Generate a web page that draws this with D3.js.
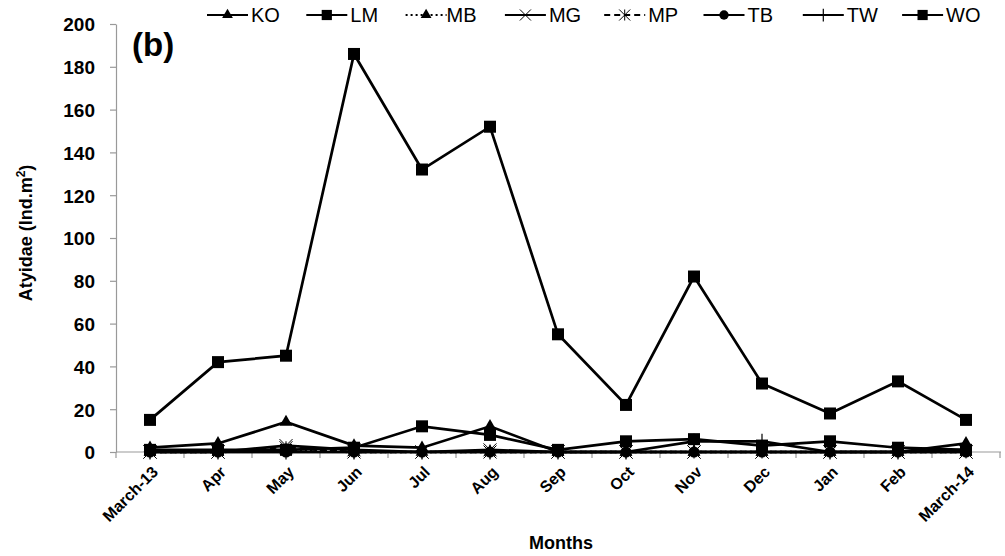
<!DOCTYPE html>
<html>
<head>
<meta charset="utf-8">
<script src="https://cdn.jsdelivr.net/npm/d3@7/dist/d3.min.js"></script>
<style>
  body { margin: 0; background: #fff; }
  svg { font-family: "Liberation Sans", Arial, sans-serif; }
</style>
</head>
<body>
<svg id="chart" width="1005" height="556"></svg>
<script>
const months = ["March-13", "Apr", "May", "Jun", "Jul", "Aug", "Sep", "Oct", "Nov", "Dec", "Jan", "Feb", "March-14"];
const yTicks = [0, 20, 40, 60, 80, 100, 120, 140, 160, 180, 200];

const KO = [2, 4, 14, 3, 2, 12, 0, 0, 0, 0, 0, 0, 4];
const LM = [1, 1, 1, 2, 12, 8, 1, 5, 6, 3, 5, 2, 1];
const MB = [0, 0, 1, 0, 0, 0, 0, 0, 0, 0, 0, 0, 0];
const MG = [0, 0, 3, 1, 0, 1, 0, 0, 0, 0, 0, 0, 0];
const MP = [0, 0, 2, 0, 0, 0, 0, 0, 0, 0, 0, 0, 0];
const TB = [0, 0, 0, 0, 0, 0, 0, 0, 0, 0, 0, 0, 0];
const TW = [0, 0, 0, 0, 0, 0, 0, 0, 5, 5, 0, 0, 1];
const WO = [15, 42, 45, 186, 132, 152, 55, 22, 82, 32, 18, 33, 15];

const series = [
  { name: "KO", values: KO, marker: "triangle", dash: null },
  { name: "LM", values: LM, marker: "square", dash: null },
  { name: "MB", values: MB, marker: "triangle", dash: "2,3" },
  { name: "MG", values: MG, marker: "cross", dash: null },
  { name: "MP", values: MP, marker: "star", dash: "6,4" },
  { name: "TB", values: TB, marker: "circle", dash: null },
  { name: "TW", values: TW, marker: "plus", dash: null },
  { name: "WO", values: WO, marker: "square", dash: null }
];

const svg = d3.select("#chart");
const mLeft = 116, mRight = 1000, mTop = 24, mBottom = 452;

const x = d3.scaleBand().domain(months).range([mLeft, mRight]).paddingInner(0).paddingOuter(0);
const y = d3.scaleLinear().domain([0, 200]).range([mBottom, mTop]);
const cx = d => x(d) + x.bandwidth() / 2;

// axes
const xAxis = svg.append("g").attr("transform", `translate(0,${mBottom})`);
xAxis.append("line").attr("x1", mLeft).attr("x2", mRight + 1).attr("stroke", "#999").attr("stroke-width", 1.2);
xAxis.selectAll(".bt").data(months.map(d => x(d)).concat([mRight]))
  .join("line")
  .attr("x1", d => d).attr("x2", d => d).attr("y1", 0).attr("y2", 6)
  .attr("stroke", "#999").attr("stroke-width", 1.2);
xAxis.selectAll(".lbl").data(months)
  .join("text")
  .attr("transform", d => `translate(${cx(d) + 9},${21}) rotate(-45)`)
  .attr("text-anchor", "end")
  .attr("font-weight", "bold")
  .attr("font-size", 16)
  .attr("fill", "#000")
  .text(d => d);

const yAxis = svg.append("g")
  .attr("transform", `translate(${mLeft},0)`)
  .call(d3.axisLeft(y).tickValues(yTicks).tickSize(6).tickPadding(15).tickSizeOuter(0));
yAxis.select(".domain").attr("stroke", "#999").attr("stroke-width", 1.2);
yAxis.selectAll(".tick line").attr("stroke", "#999").attr("stroke-width", 1.2);
yAxis.selectAll(".tick text")
  .attr("font-family", "Liberation Sans, Arial, sans-serif")
  .attr("font-size", 19).attr("font-weight", "bold").attr("fill", "#000")
  .attr("dy", "0.36em");

// titles
svg.append("text").attr("x", 561).attr("y", 549).attr("text-anchor", "middle")
  .attr("font-weight", "bold").attr("font-size", 18).text("Months");
const yl = svg.append("text").attr("transform", "translate(32,233) rotate(-90)")
  .attr("text-anchor", "middle").attr("font-weight", "bold").attr("font-size", 18);
yl.append("tspan").text("Atyidae (Ind.m");
yl.append("tspan").attr("dy", -7).attr("font-size", 12).text("2");
yl.append("tspan").attr("dy", 7).text(")");
svg.append("text").attr("x", 132).attr("y", 56).attr("font-weight", "bold").attr("font-size", 33).text("(b)");

// markers
function drawMarker(g, type, px, py, scale) {
  const s = scale || 1;
  if (type === "square") {
    const h = 6 * s;
    g.append("rect").attr("x", px - h).attr("y", py - h).attr("width", 2 * h).attr("height", 2 * h).attr("fill", "#000");
  } else if (type === "triangle") {
    g.append("path").attr("d", d3.symbol(d3.symbolTriangle, 70 * s * s)()).attr("transform", `translate(${px},${py})`).attr("fill", "#000");
  } else if (type === "circle") {
    g.append("circle").attr("cx", px).attr("cy", py).attr("r", 5.5 * s).attr("fill", "#000");
  } else if (type === "cross") {
    const h = 6.5 * s;
    g.append("path").attr("d", `M${px - h},${py - h}L${px + h},${py + h}M${px - h},${py + h}L${px + h},${py - h}`)
      .attr("stroke", "#000").attr("stroke-width", 1);
  } else if (type === "star") {
    const h = 6.5 * s;
    g.append("path").attr("d", `M${px - h},${py - h}L${px + h},${py + h}M${px - h},${py + h}L${px + h},${py - h}M${px},${py - h}L${px},${py + h}`)
      .attr("stroke", "#000").attr("stroke-width", 1);
  } else if (type === "plus") {
    const h = 7.5 * s;
    g.append("path").attr("d", `M${px},${py - h}L${px},${py + h}`).attr("stroke", "#000").attr("stroke-width", 1.2);
  }
}

const line = d3.line().x((d, i) => cx(months[i])).y(d => y(d));
const plot = svg.append("g");
series.forEach(s => {
  plot.append("path").datum(s.values)
    .attr("d", line)
    .attr("fill", "none").attr("stroke", "#000").attr("stroke-width", 2.7)
    .attr("stroke-dasharray", s.dash);
  s.values.forEach((v, i) => drawMarker(plot, s.marker, cx(months[i]), y(v)));
});

// legend
const legend = svg.append("g");
series.forEach((s, i) => {
  const lx = 207 + i * 99.3, ly = 15;
  legend.append("line").attr("x1", lx).attr("x2", lx + 41).attr("y1", ly).attr("y2", ly)
    .attr("stroke", "#000").attr("stroke-width", 2)
    .attr("stroke-dasharray", s.dash);
  drawMarker(legend, s.marker, lx + 20.5, ly, 0.85);
  legend.append("text").attr("x", lx + (s.name === "MB" ? 41 : 44)).attr("y", ly).attr("dy", "0.36em")
    .attr("font-size", 20).attr("fill", "#000").text(s.name);
});
</script>
</body>
</html>
